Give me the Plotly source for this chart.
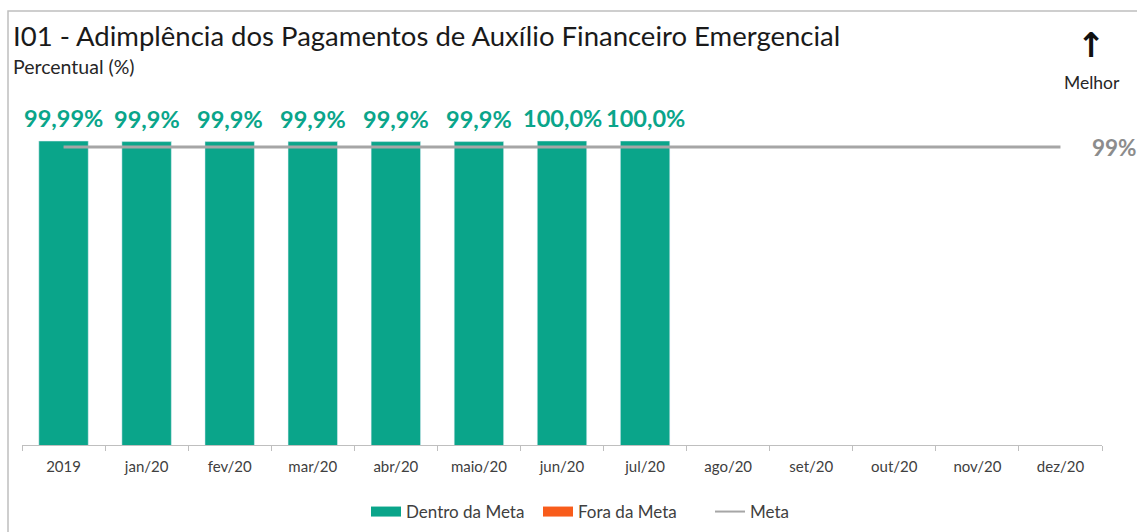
import plotly.graph_objects as go

# Categories and series
categories = ["2019", "jan/20", "fev/20", "mar/20", "abr/20", "maio/20", "jun/20",
              "jul/20", "ago/20", "set/20", "out/20", "nov/20", "dez/20"]
dentro_meta = [99.99, 99.9, 99.9, 99.9, 99.9, 99.9, 100.0, 100.0]
label_decimals = [2, 1, 1, 1, 1, 1, 1, 1]
fora_meta = []
meta = [99] * len(categories)

GREEN = "#0AA58A"
ORANGE = "#F85C1B"
GRAY_LINE = "#A6A6A6"
FONT = "Lato"

W, H = 1137, 532
L, R, T, B = 22, 35, 100, 87
plot_w = W - L - R
plot_h = H - T - B
Y_MIN = 50
Y_MAX = Y_MIN + (plot_h) / 6.08


def px_x(x):
    return (x - L) / plot_w


def px_y(y):
    return (H - B - y) / plot_h


def fmt(v, d):
    return f"{v:.{d}f}".replace(".", ",") + "%"


fig = go.Figure()

fig.add_bar(x=categories[:len(dentro_meta)], y=dentro_meta, name="Dentro da Meta",
            marker_color=GREEN, showlegend=False, hoverinfo="skip")
fig.add_bar(x=categories[:len(fora_meta)], y=fora_meta, name="Fora da Meta",
            marker_color=ORANGE, showlegend=False)
fig.add_scatter(x=categories, y=meta, mode="lines", name="Meta", showlegend=False,
                line=dict(color=GRAY_LINE, width=3))

# legend entries with wide swatches
for nm, col, w in [("Dentro da Meta", GREEN, 10), ("Fora da Meta", ORANGE, 10),
                   ("Meta", GRAY_LINE, 2)]:
    fig.add_scatter(x=[None], y=[None], mode="lines", name=nm,
                    line=dict(color=col, width=w))

annotations = []
for i, (v, d) in enumerate(zip(dentro_meta, label_decimals)):
    annotations.append(dict(x=i, y=v, xref="x", yref="y", text=fmt(v, d),
                            showarrow=False, yanchor="bottom", yshift=7,
                            font=dict(family=FONT, size=23.5, color=GREEN, weight="bold")))

annotations.append(dict(x=px_x(1090), y=meta[-1], xref="paper", yref="y",
                        text=f"{meta[-1]}%", showarrow=False, xanchor="left",
                        yanchor="middle",
                        font=dict(family=FONT, size=22.5, color="#8C8C8C", weight="bold")))

annotations += [
    dict(x=px_x(11), y=px_y(35), xref="paper", yref="paper", xanchor="left",
         yanchor="middle", showarrow=False,
         text="I01 - Adimplência dos Pagamentos de Auxílio Financeiro Emergencial",
         font=dict(family=FONT, size=27.5, color="#1A1A1A")),
    dict(x=px_x(11), y=px_y(66), xref="paper", yref="paper", xanchor="left",
         yanchor="middle", showarrow=False, text="Percentual (%)",
         font=dict(family=FONT, size=19.5, color="#262626")),
    dict(x=px_x(1091), y=px_y(45), xref="paper", yref="paper", xanchor="center",
         yanchor="middle", showarrow=False, text="↑",
         font=dict(family="DejaVu Sans", size=34, color="#111111", weight="bold")),
    dict(x=px_x(1092), y=px_y(82), xref="paper", yref="paper", xanchor="center",
         yanchor="middle", showarrow=False, text="Melhor",
         font=dict(family=FONT, size=17.5, color="#262626")),
]

fig.update_layout(
    width=W, height=H,
    margin=dict(l=L, r=R, t=T, b=B, autoexpand=False),
    plot_bgcolor="white", paper_bgcolor="white",
    barmode="group", bargap=0.405,
    font=dict(family=FONT, color="#404040"),
    annotations=annotations,
    shapes=[dict(type="rect", xref="paper", yref="paper",
                 x0=px_x(8), x1=px_x(W + 20), y0=px_y(H + 20), y1=px_y(11),
                 line=dict(color="#BFBFBF", width=1.5), layer="below")],
    legend=dict(orientation="h", x=px_x(366), xanchor="left", y=px_y(512),
                yanchor="middle", font=dict(family=FONT, size=17, color="#404040"),
                itemwidth=30, entrywidth=127, bgcolor="rgba(0,0,0,0)"),
    xaxis=dict(type="category", categoryorder="array", categoryarray=categories,
               range=[-0.5, len(categories) - 0.5],
               showline=True, linecolor="#BFBFBF", linewidth=1,
               ticks="outside", ticklen=5, tickcolor="#BFBFBF", tickson="boundaries",
               ticklabelstandoff=8,
               tickfont=dict(family=FONT, size=15, color="#404040"),
               showgrid=False, fixedrange=True),
    yaxis=dict(range=[Y_MIN, Y_MAX], visible=False, showgrid=False, fixedrange=True),
)

fig.write_html("out.html")
